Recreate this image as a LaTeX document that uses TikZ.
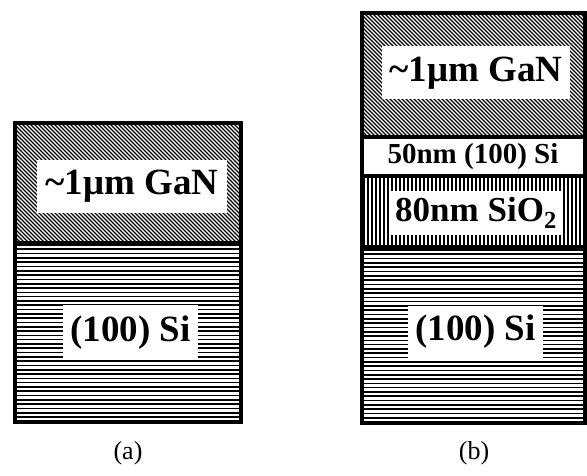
\documentclass[tikz,border=0pt]{standalone}
\usepackage{fontspec}
\setmainfont{Liberation Serif}
\begin{document}
\begin{tikzpicture}[x=1pt,y=-1pt,
  outline/.style={line width=4pt},
  sep/.style={line width=3.5pt},
  hline/.style={line width=1.6pt},
  dline/.style={line width=1.1pt},
  vline/.style={line width=1.5pt},
  lbl/.style={fill=white,inner sep=0pt,font=\fontsize{37}{40}\selectfont\bfseries},
  lblsmall/.style={inner sep=0pt,font=\fontsize{29}{32}\selectfont\bfseries},
  capt/.style={inner sep=0pt,font=\fontsize{26}{30}\selectfont}]
\useasboundingbox (0,0) rectangle (587,476);
% ---------- (a) ----------
\begin{scope}
  \clip (15,123) rectangle (241,243);
  \foreach \i in {-130,-126,...,240} \draw[dline] (15+\i,123) -- ++(125,125);
\end{scope}
\begin{scope}
  \clip (15,243) rectangle (241,422);
  \foreach \j in {245,249.3,...,422} \draw[hline] (15,\j) -- (241,\j);
\end{scope}
\draw[sep] (15,243) -- (241,243);
\draw[outline] (15,123) rectangle (241,422);
\node[lbl,minimum width=190pt,minimum height=53pt] (ganA) at (132,186.5) {\raisebox{0pt}{\char`\~}1μm GaN};
\node[lbl,minimum width=135pt,minimum height=55pt] (siA) at (130.5,332.5) {(100) Si};
\node[capt] (capA) at (128,453) {(a)};
% ---------- (b) ----------
\begin{scope}
  \clip (362,13) rectangle (585,137);
  \foreach \i in {-130,-126,...,240} \draw[dline] (362+\i,13) -- ++(130,130);
\end{scope}
\begin{scope}
  \clip (362,176) rectangle (585,247);
  \foreach \k in {364,368,...,586} \draw[vline] (\k,176) -- (\k,247);
\end{scope}
\begin{scope}
  \clip (362,247) rectangle (585,423);
  \foreach \j in {250,254.3,...,423} \draw[hline] (362,\j) -- (585,\j);
\end{scope}
\draw[sep] (362,137) -- (585,137);
\draw[sep] (362,176) -- (585,176);
\draw[sep] (362,247) -- (585,247);
\draw[outline] (362,13) rectangle (585,423);
\node[lbl,minimum width=188pt,minimum height=53pt] (ganB) at (476,73) {\char`\~1μm GaN};
\node[lblsmall] (siTop) at (473,157) {50nm (100) Si};
\node[lbl,minimum width=172pt,minimum height=44pt,font=\fontsize{35}{38}\selectfont\bfseries] (oxB) at (476,213) {80nm SiO\textsubscript{2}};
\node[lbl,minimum width=135pt,minimum height=52pt] (siB) at (475.5,332) {(100) Si};
\node[capt] (capB) at (474,453) {(b)};
\end{tikzpicture}
\end{document}
